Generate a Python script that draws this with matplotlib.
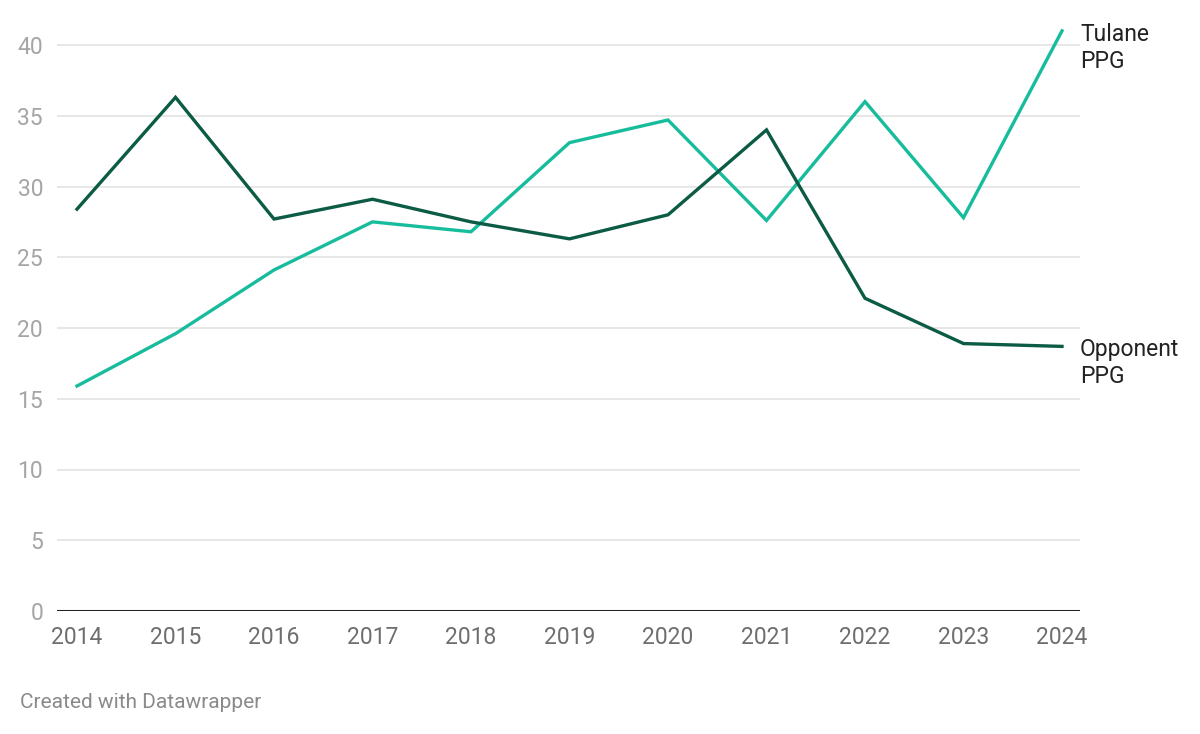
import matplotlib
matplotlib.use("Agg")
import matplotlib.pyplot as plt

plt.rcParams['font.family'] = ['Roboto', 'DejaVu Sans']

years = [2014, 2015, 2016, 2017, 2018, 2019, 2020, 2021, 2022, 2023, 2024]
tulane_ppg = [15.9, 19.6, 24.1, 27.5, 26.8, 33.1, 34.7, 27.6, 36.0, 27.8, 41.0]
opponent_ppg = [28.4, 36.3, 27.7, 29.1, 27.5, 26.3, 28.0, 34.0, 22.1, 18.9, 18.7]
y_ticks = [0, 5, 10, 15, 20, 25, 30, 35, 40]

teal = '#17bc9c'
dark = '#0b5b45'

fig = plt.figure(figsize=(12, 7.34), dpi=100)
ax = fig.add_axes([57 / 1200, 123 / 734, 1023 / 1200, 594.3 / 734])

for t in y_ticks[1:]:
    ax.axhline(t, color='#e3e3e3', lw=1.2, zorder=1)
ax.axhline(0, color='#222222', lw=2.2, zorder=3)

ax.plot(years, tulane_ppg, color=teal, lw=2.4, zorder=4, solid_joinstyle='miter')
ax.plot(years, opponent_ppg, color=dark, lw=2.4, zorder=4, solid_joinstyle='miter')

ax.set_xlim(2014 - 20 / 98.5, 2024 + 18 / 98.5)
ax.set_ylim(0, 42)

for s in ax.spines.values():
    s.set_visible(False)

ax.set_yticks(y_ticks)
ax.set_yticklabels([str(t) for t in y_ticks])
ax.set_xticks(years)
ax.set_xticklabels([str(y) for y in years])
ax.tick_params(axis='y', length=0, pad=10, labelsize=16.5, labelcolor='#a5a5a5')
ax.tick_params(axis='x', length=0, pad=11, labelsize=16.5, labelcolor='#6e6e6e')

# series labels at the right end
ax.annotate('Tulane\nPPG', xy=(1.0, tulane_ppg[-1]), xycoords=('axes fraction', 'data'),
            xytext=(0, 6), textcoords='offset points', ha='left', va='top',
            fontsize=16.5, color='#222222', linespacing=1.24)
ax.annotate('Opponent\nPPG', xy=(1.0, opponent_ppg[-1]), xycoords=('axes fraction', 'data'),
            xytext=(0, 6), textcoords='offset points', ha='left', va='top',
            fontsize=16.5, color='#222222', linespacing=1.24)

fig.text(20 / 1200, 1 - 702 / 734, 'Created with Datawrapper', ha='left', va='center',
         fontsize=15, color='#8a8a8a')

fig.savefig('out.png', dpi=100, facecolor='white')
